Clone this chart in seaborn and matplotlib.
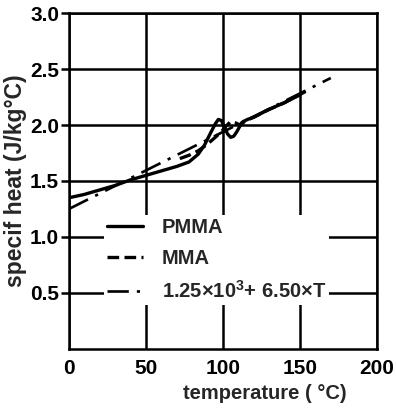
import numpy as np
import pandas as pd
import matplotlib
matplotlib.use('Agg')
import matplotlib.pyplot as plt
import seaborn as sns

# 数据
temp_pmma = [0, 10, 20, 30, 40, 50, 60, 70, 78, 84, 88, 92, 95, 97, 99, 101, 103, 105,
             107, 109, 111, 113, 116, 120, 130, 140, 150]
cp_pmma = [1.35, 1.38, 1.42, 1.46, 1.51, 1.55, 1.59, 1.63, 1.67, 1.74, 1.82, 1.93, 2.01,
           2.05, 2.04, 1.98, 1.92, 1.89, 1.90, 1.94, 1.99, 2.03, 2.05, 2.07, 2.14, 2.20, 2.27]

temp_mma = [72, 78, 84, 90, 95, 99, 102, 105, 108, 111, 115, 120, 130, 140, 155]
cp_mma = [1.70, 1.73, 1.77, 1.83, 1.89, 1.94, 1.99, 2.03, 2.02, 2.00, 2.04, 2.07, 2.14, 2.20, 2.31]

temp_fit = [0, 170]
cp_fit = [1.25, 2.42]

labels = ['PMMA', 'MMA', r'1.25×10$^{3}$+ 6.50×T']
x_ticks = [0, 50, 100, 150, 200]
y_ticks = [0.5, 1.0, 1.5, 2.0, 2.5, 3.0]

sns.set_theme(style="ticks")
plt.rcParams['font.family'] = ['Liberation Sans', 'DejaVu Sans']
plt.rcParams['font.weight'] = 'bold'
plt.rcParams['mathtext.fontset'] = 'custom'
plt.rcParams['mathtext.rm'] = 'Liberation Sans:bold'
plt.rcParams['mathtext.it'] = 'Liberation Sans:bold'
plt.rcParams['mathtext.default'] = 'rm'

fig = plt.figure(figsize=(3.96, 4.09), dpi=100)
ax = fig.add_axes([0.174, 0.147, 0.778, 0.821])

lw = 2.4
sns.lineplot(x=temp_pmma, y=cp_pmma, ax=ax, color='black', lw=lw, label=labels[0])
sns.lineplot(x=temp_mma, y=cp_mma, ax=ax, color='black', lw=lw, linestyle=(0, (3.5, 1.6)),
             label=labels[1])
sns.lineplot(x=temp_fit, y=cp_fit, ax=ax, color='black', lw=lw * 0.8,
             linestyle=(0, (8, 3, 1.2, 3)), label=labels[2])

ax.set_xlim(0, 200)
ax.set_ylim(0, 3.0)
ax.set_xticks(x_ticks)
ax.set_yticks(y_ticks)
ax.set_yticklabels([f'{v:.1f}' for v in y_ticks])
ax.grid(True, color='black', lw=1.8)
ax.set_axisbelow(True)
for s in ax.spines.values():
    s.set_color('black')
    s.set_linewidth(1.8)

ax.tick_params(axis='x', length=0, pad=7, labelsize=15, colors='black')
ax.tick_params(axis='y', length=6, width=1.8, pad=1, labelsize=15, colors='black')

ax.set_xlabel('temperature ( °C)', fontsize=14.5, fontweight='bold')
ax.xaxis.set_label_coords(0.636, -0.106)
ax.set_ylabel('specif heat (J/kg°C)', fontsize=16.5, fontweight='bold', labelpad=2)

leg = ax.legend(loc='upper left', bbox_to_anchor=(0.113, 0.40), frameon=True,
                fancybox=False, edgecolor='none', facecolor='white', framealpha=1,
                fontsize=14.5, handlelength=1.8, handletextpad=0.95, labelspacing=0.6,
                borderpad=0.15, borderaxespad=0)
for txt in leg.get_texts():
    txt.set_fontweight('bold')

plt.savefig('out.png', dpi=100)
plt.close()
